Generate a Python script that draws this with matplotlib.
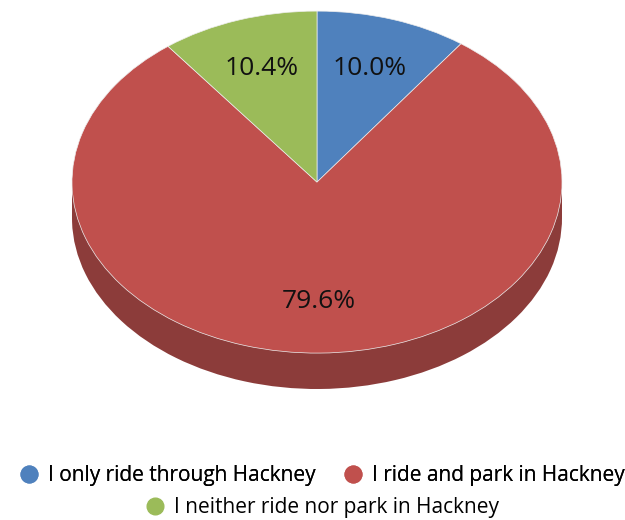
import matplotlib.pyplot as plt
from matplotlib.patches import Rectangle
from matplotlib.lines import Line2D

labels = ["I only ride through Hackney", "I ride and park in Hackney",
          "I neither ride nor park in Hackney"]
values = [10.0, 79.6, 10.4]
colors = ["#4F81BD", "#C0504D", "#9BBB59"]
side_colors = ["#3A5F8C", "#8C3C3A", "#72893F"]

plt.rcParams['font.family'] = ['Open Sans', 'DejaVu Sans']

fig = plt.figure(figsize=(6.25, 5.2), dpi=100)

# pie face is 490px wide, 342px tall, 36px deep (3d look)
depth = 0.21
ax = fig.add_axes([72 / 625, (520 - 389) / 520, 490 / 625, (1 + 1 + depth) * 171 / 520])

# side wall: shifted pie + band between the two faces
ax.pie(values, colors=side_colors, startangle=90, counterclock=False,
       center=(0, -depth), radius=1)
ax.add_patch(Rectangle((-1, -depth), 2, depth, color=side_colors[1], zorder=0.5))

wedges, texts, autotexts = ax.pie(
    values, colors=colors, startangle=90, counterclock=False,
    autopct='%.1f%%', pctdistance=0.7,
    wedgeprops=dict(edgecolor='#eeeeee', linewidth=0.5),
    textprops=dict(fontsize=19, color='#111111'))
for w in wedges:
    w.set_zorder(2)
for t in autotexts:
    t.set_zorder(3)

ax.set_aspect('auto')
ax.set_xlim(-1, 1)
ax.set_ylim(-1 - depth, 1)
ax.axis('off')

def handle(c):
    return Line2D([], [], marker='o', linestyle='', markersize=12,
                  markerfacecolor=c, markeredgecolor=c)

leg1 = fig.legend([handle(colors[0]), handle(colors[1])], labels[:2], ncol=2,
                  loc='center', bbox_to_anchor=(0.515, 1 - 476 / 520),
                  frameon=False, fontsize=15, handletextpad=0.4,
                  columnspacing=1.3, handlelength=1.0)
leg2 = fig.legend([handle(colors[2])], labels[2:], loc='center',
                  bbox_to_anchor=(0.515, 1 - 508 / 520), frameon=False,
                  fontsize=15, handletextpad=0.4, handlelength=1.0)
fig.add_artist(leg1)

fig.savefig("out.png", dpi=100)
